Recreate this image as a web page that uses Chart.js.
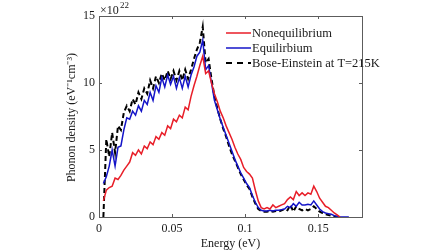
<!DOCTYPE html>
<html>
<head>
<meta charset="utf-8">
<script src="https://cdn.jsdelivr.net/npm/chart.js@4"></script>
<style>
  html, body { margin: 0; padding: 0; background: #fff; }
  canvas { display: block; }
</style>
</head>
<body>
<canvas id="phononChart" width="448" height="252"></canvas>
<script>
// ==========================================
// PHONON DENSITY VS ENERGY (Chart.js line chart)
// ==========================================

// energy grid (eV), one value every 0.002 eV from 0.003
const energy = [
  0.003, 0.005, 0.007, 0.009, 0.011, 0.013, 0.015, 0.017, 0.019, 0.021,
  0.023, 0.025, 0.027, 0.029, 0.031, 0.033, 0.035, 0.037, 0.039, 0.041,
  0.043, 0.045, 0.047, 0.049, 0.051, 0.053, 0.055, 0.057, 0.059, 0.061,
  0.063, 0.065, 0.067, 0.069, 0.071, 0.073, 0.075, 0.077, 0.079, 0.081,
  0.083, 0.085, 0.087, 0.089, 0.091, 0.093, 0.095, 0.097, 0.099, 0.101,
  0.103, 0.105, 0.107, 0.109, 0.111, 0.113, 0.115, 0.117, 0.119, 0.121,
  0.123, 0.125, 0.127, 0.129, 0.131, 0.133, 0.135, 0.137, 0.139, 0.141,
  0.143, 0.145, 0.147, 0.149, 0.151, 0.153, 0.155, 0.157, 0.159, 0.161,
  0.163, 0.165, 0.167, 0.169, 0.171,
];

// phonon density in units of 1e22 eV^-1 cm^-3
const nonequilibrium = [
  1.2, 2.0, 2.2, 2.3, 2.9, 2.8, 3.1, 3.5, 3.8, 4.1,
  4.8, 4.6, 5.0, 4.7, 5.3, 5.1, 5.6, 5.4, 6.0, 5.8,
  6.3, 6.1, 6.8, 6.6, 7.3, 7.1, 7.6, 7.4, 8.2, 8.0,
  9.0, 9.8, 10.5, 11.3, 12.0, 10.7, 10.9, 10.0, 9.2, 8.6,
  7.9, 7.4, 6.8, 6.3, 5.8, 5.2, 4.7, 4.3, 3.7, 3.4,
  3.2, 2.9, 2.0, 1.2, 0.7, 0.6, 0.7, 0.6, 0.9, 0.7,
  0.8, 0.9, 1.0, 1.3, 1.5, 1.3, 1.9, 1.6, 1.8, 1.6,
  1.8, 1.7, 2.3, 1.9, 1.4, 1.1, 0.8, 0.7, 0.5, 0.3,
  0.15, 0.0, null, null, null,
];

const equilibrium = [
  2.5, 3.0, 3.8, 5.0, 3.8, 5.2, 5.3, 6.5, 7.4, 7.3,
  7.9, 7.6, 8.3, 7.9, 8.7, 8.4, 9.3, 8.7, 9.8, 9.3,
  10.4, 9.7, 10.6, 9.9, 10.5, 9.6, 10.4, 9.6, 10.5, 9.7,
  10.6, 11.2, 12.0, 12.3, 13.2, 11.0, 11.3, 10.0, 8.7, 8.0,
  7.3, 6.7, 6.1, 5.5, 4.9, 4.3, 3.8, 3.3, 2.9, 2.5,
  2.2, 1.6, 1.1, 0.7, 0.5, 0.45, 0.45, 0.5, 0.45, 0.5,
  0.5, 0.55, 0.6, 0.8, 0.7, 1.0, 0.8, 1.1, 0.9, 0.9,
  0.95, 0.9, 1.2, 0.9, 0.6, 0.4, 0.3, 0.25, 0.2, 0.1,
  0.05, 0.0, 0.0, 0.0, 0.0,
];

const boseEinstein = [
  0.0, 5.8, 4.5, 6.3, 4.8, 6.8, 6.5, 7.8, 8.3, 7.9,
  8.8, 8.4, 9.3, 8.8, 9.6, 9.2, 10.2, 9.6, 10.5, 10.0,
  10.7, 10.2, 10.9, 10.3, 10.9, 10.2, 10.9, 10.2, 11.0, 10.3,
  11.0, 11.8, 12.5, 13.0, 14.2, 11.5, 11.8, 10.3, 9.0, 8.1,
  7.3, 6.6, 6.0, 5.3, 4.7, 4.2, 3.7, 3.2, 2.8, 2.4,
  2.1, 1.5, 1.0, 0.6, 0.45, 0.4, 0.4, 0.45, 0.4, 0.45,
  0.4, 0.5, 0.6, 0.5, 0.9, 0.4, 0.8, 0.6, 0.5, 0.6,
  0.5, 0.6, 0.8, 0.6, 0.4, 0.3, 0.2, 0.15, 0.1, 0.05,
  0.0, 0.0, null, null, null,
];

const xTicks = [0, 0.05, 0.1, 0.15];
const yTicks = [0, 5, 10, 15];

const legendLabels = ['Nonequilibrium', 'Equilirbium', 'Bose-Einstein at T=215K'];

const RED = 'rgb(232, 30, 40)';
const BLUE = 'rgb(20, 20, 200)';
const BLACK = 'rgb(0, 0, 0)';
const AXIS = '#5c5c5c';
const FONT = "'Liberation Serif', 'Times New Roman', serif";

function toPoints(values) {
  return energy.map(function (e, i) {
    return { x: e, y: values[i] };
  });
}

// frame, inward ticks, titles, exponent and legend
const decorPlugin = {
  id: 'decor',
  afterDatasetsDraw: function (chart) {
    const ctx = chart.ctx;
    const a = chart.chartArea;
    const xs = chart.scales.x;
    const ys = chart.scales.y;
    ctx.save();
    ctx.strokeStyle = AXIS;
    ctx.lineWidth = 1;
    ctx.strokeRect(a.left + 0.5, a.top + 0.5, a.right - a.left, a.bottom - a.top);
    ctx.beginPath();
    xTicks.forEach(function (v) {
      const px = Math.round(xs.getPixelForValue(v)) + 0.5;
      ctx.moveTo(px, a.bottom);
      ctx.lineTo(px, a.bottom - 3);
      ctx.moveTo(px, a.top);
      ctx.lineTo(px, a.top + 3);
    });
    yTicks.forEach(function (v) {
      const py = Math.round(ys.getPixelForValue(v)) + 0.5;
      ctx.moveTo(a.left, py);
      ctx.lineTo(a.left + 3, py);
      ctx.moveTo(a.right, py);
      ctx.lineTo(a.right - 3, py);
    });
    ctx.stroke();

    ctx.fillStyle = '#1a1a1a';
    // x title
    ctx.font = '12px ' + FONT;
    ctx.textAlign = 'center';
    ctx.textBaseline = 'middle';
    ctx.fillText('Energy (eV)', (a.left + a.right) / 2, 244);
    // y title
    ctx.save();
    ctx.translate(72, (a.top + a.bottom) / 2 + 1);
    ctx.rotate(-Math.PI / 2);
    ctx.fillText('Phonon density (eV\u207B\u00B9cm\u207B\u00B3)', 0, 0);
    ctx.restore();
    // exponent
    ctx.textAlign = 'left';
    ctx.textBaseline = 'alphabetic';
    ctx.font = '12px ' + FONT;
    ctx.fillText('\u00D710', 100, 14);
    ctx.font = '9px ' + FONT;
    ctx.fillText('22', 120, 8);

    // legend
    const colors = [RED, BLUE, BLACK];
    const rows = [33, 48, 63];
    ctx.font = '12.5px ' + FONT;
    ctx.textBaseline = 'middle';
    legendLabels.forEach(function (label, i) {
      ctx.strokeStyle = colors[i];
      ctx.lineWidth = i === 2 ? 2 : 1.5;
      ctx.setLineDash(i === 2 ? [6, 5] : []);
      ctx.beginPath();
      ctx.moveTo(226, rows[i]);
      ctx.lineTo(251, rows[i]);
      ctx.stroke();
      ctx.setLineDash([]);
      ctx.fillStyle = '#1a1a1a';
      ctx.fillText(label, 252, rows[i] + 1);
    });
    ctx.restore();
  },
};

const phononConfig = {
  type: 'line',
  data: {
    datasets: [
      {
        label: legendLabels[0],
        data: toPoints(nonequilibrium),
        borderColor: RED,
        borderWidth: 1.5,
        pointRadius: 0,
        tension: 0,
        spanGaps: false,
      },
      {
        label: legendLabels[1],
        data: toPoints(equilibrium),
        borderColor: BLUE,
        borderWidth: 1.5,
        pointRadius: 0,
        tension: 0,
      },
      {
        label: legendLabels[2],
        data: toPoints(boseEinstein),
        borderColor: BLACK,
        borderWidth: 2,
        borderDash: [5, 3],
        pointRadius: 0,
        tension: 0,
      },
    ],
  },
  options: {
    responsive: false,
    devicePixelRatio: 1,
    animation: false,
    layout: {
      padding: { top: 16, right: 86, left: 0, bottom: 0 },
    },
    plugins: {
      legend: { display: false },
      tooltip: { enabled: false },
    },
    scales: {
      x: {
        type: 'linear',
        min: 0,
        max: 0.18,
        grid: { display: false, drawTicks: false, tickLength: 0 },
        border: { display: false },
        afterBuildTicks: function (scale) {
          scale.ticks = xTicks.map(function (v) { return { value: v }; });
        },
        afterFit: function (scale) {
          scale.height = 35;
        },
        ticks: {
          padding: 5,
          color: '#1a1a1a',
          font: { family: FONT, size: 12 },
          maxRotation: 0,
          callback: function (v) {
            return String(Math.round(v * 100) / 100);
          },
        },
      },
      y: {
        type: 'linear',
        min: 0,
        max: 15,
        grid: { display: false, drawTicks: false, tickLength: 0 },
        border: { display: false },
        afterBuildTicks: function (scale) {
          scale.ticks = yTicks.map(function (v) { return { value: v }; });
        },
        afterFit: function (scale) {
          scale.width = 99;
        },
        ticks: {
          padding: 4,
          color: '#1a1a1a',
          font: { family: FONT, size: 12 },
        },
      },
    },
  },
  plugins: [decorPlugin],
};

const phononChart = new Chart(
  document.getElementById('phononChart'),
  phononConfig
);
</script>
</body>
</html>
